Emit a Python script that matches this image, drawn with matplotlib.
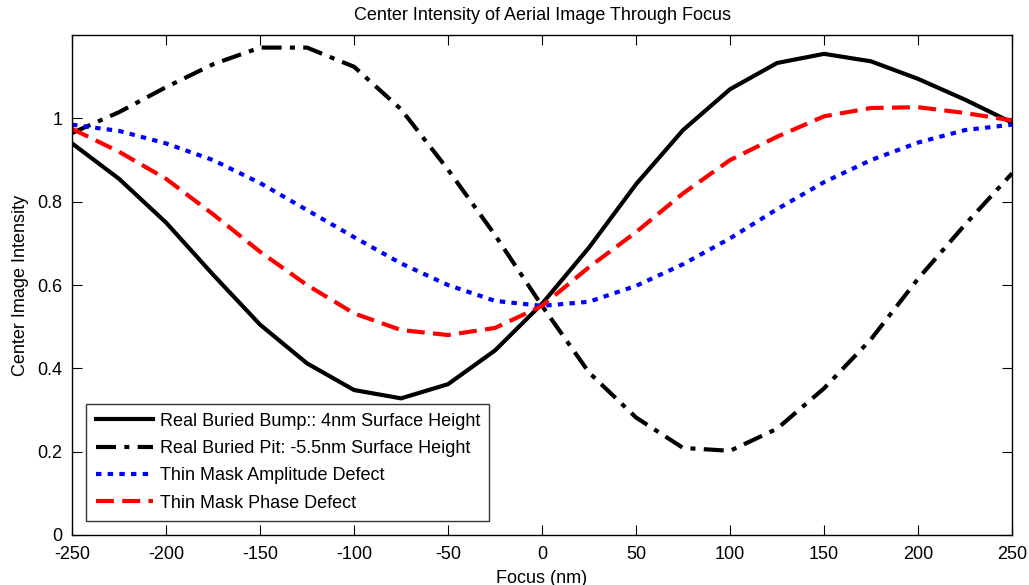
import matplotlib
matplotlib.use("Agg")
import matplotlib.pyplot as plt

plt.rcParams["font.family"] = ["Liberation Sans", "DejaVu Sans"]
plt.rcParams["axes.unicode_minus"] = False

focus = [-250, -225, -200, -175, -150, -125, -100, -75, -50, -25, 0,
         25, 50, 75, 100, 125, 150, 175, 200, 225, 250]

bump = [0.94, 0.855, 0.75, 0.625, 0.505, 0.412, 0.348, 0.328, 0.362, 0.443, 0.555,
        0.69, 0.842, 0.972, 1.07, 1.133, 1.155, 1.137, 1.095, 1.045, 0.99]
pit = [0.965, 1.015, 1.075, 1.13, 1.17, 1.17, 1.124, 1.022, 0.877, 0.72, 0.55,
       0.39, 0.282, 0.209, 0.202, 0.255, 0.352, 0.47, 0.615, 0.745, 0.868]
amplitude = [0.985, 0.97, 0.94, 0.9, 0.845, 0.78, 0.715, 0.652, 0.6, 0.562, 0.55,
             0.56, 0.598, 0.65, 0.712, 0.782, 0.847, 0.9, 0.942, 0.972, 0.985]
phase = [0.975, 0.92, 0.855, 0.77, 0.68, 0.6, 0.532, 0.492, 0.48, 0.497, 0.55,
         0.643, 0.727, 0.82, 0.9, 0.956, 1.005, 1.025, 1.027, 1.013, 0.995]

labels = ["Real Buried Bump:: 4nm Surface Height",
          "Real Buried Pit: -5.5nm Surface Height",
          "Thin Mask Amplitude Defect",
          "Thin Mask Phase Defect"]

fig = plt.figure(figsize=(10.29, 5.85), dpi=100)
ax = fig.add_axes([0.07, 0.0855, 0.9135, 0.8545])

ax.plot(focus, bump, color="black", lw=3, label=labels[0])
ax.plot(focus, pit, color="black", lw=3, linestyle=(0, (4.8, 2, 1.2, 2)), label=labels[1])
ax.plot(focus, amplitude, color="blue", lw=3, linestyle=(0, (1.3, 1.5)), label=labels[2])
ax.plot(focus, phase, color="red", lw=3, linestyle=(0, (4.3, 2)), label=labels[3])

ax.set_xlim(-250, 250)
ax.set_ylim(0, 1.2)
ax.set_xticks(range(-250, 251, 50))
ax.set_yticks([0, 0.2, 0.4, 0.6, 0.8, 1])
ax.set_yticklabels(["0", "0.2", "0.4", "0.6", "0.8", "1"])
ax.tick_params(direction="in", length=7, labelsize=13, top=True, right=True)
ax.tick_params(axis="x", pad=8)
ax.tick_params(axis="y", pad=7)
for s in ax.spines.values():
    s.set_linewidth(1)

ax.set_xlabel("Focus (nm)", fontsize=13, labelpad=5)
ax.set_ylabel("Center Image Intensity", fontsize=13, labelpad=6)
ax.set_title("Center Intensity of Aerial Image Through Focus", fontsize=13, pad=11)

leg = ax.legend(loc="lower left", fontsize=13, handlelength=3.2, handletextpad=0.35,
                frameon=True, fancybox=False, edgecolor="black", borderaxespad=0.8,
                labelspacing=0.57, borderpad=0.5)
leg.get_frame().set_linewidth(1)

fig.savefig("out.png", dpi=100)
